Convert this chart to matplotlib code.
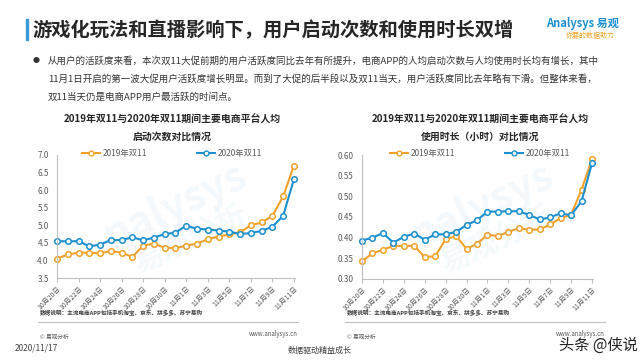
import matplotlib
matplotlib.use('Agg')
import matplotlib.pyplot as plt
from matplotlib.lines import Line2D

plt.rcParams['font.family'] = ['Noto Sans CJK SC', 'DejaVu Sans']

# data
days = ['10月20日', '10月21日', '10月22日', '10月23日', '10月24日', '10月25日',
        '10月26日', '10月27日', '10月28日', '10月29日', '10月30日', '10月31日',
        '11月1日', '11月2日', '11月3日', '11月4日', '11月5日', '11月6日',
        '11月7日', '11月8日', '11月9日', '11月10日', '11月11日']

launch_2019 = [4.05, 4.17, 4.22, 4.22, 4.20, 4.27, 4.22, 4.10, 4.42, 4.48, 4.36, 4.35,
               4.42, 4.48, 4.60, 4.68, 4.74, 4.80, 5.00, 5.08, 5.27, 5.82, 6.70]
launch_2020 = [4.55, 4.54, 4.55, 4.40, 4.45, 4.58, 4.58, 4.66, 4.57, 4.65, 4.75, 4.79,
               4.99, 4.90, 4.88, 4.85, 4.82, 4.75, 4.78, 4.84, 4.96, 5.27, 6.31]

usage_2019 = [0.343, 0.362, 0.371, 0.380, 0.380, 0.380, 0.353, 0.355, 0.396, 0.404, 0.373, 0.385,
              0.407, 0.404, 0.414, 0.423, 0.419, 0.420, 0.432, 0.447, 0.455, 0.516, 0.590]
usage_2020 = [0.393, 0.400, 0.411, 0.388, 0.402, 0.410, 0.395, 0.408, 0.408, 0.414, 0.431, 0.442,
              0.463, 0.463, 0.464, 0.464, 0.455, 0.444, 0.449, 0.459, 0.454, 0.488, 0.580]

series_names = ['2019年双11', '2020年双11']
orange = '#F2A22A'
blue = '#1C8FCF'
grey = '#595959'

fig = plt.figure(figsize=(6.4, 3.6), dpi=100)
fig.patch.set_facecolor('white')

# header
fig.patches.append(plt.Rectangle((26 / 640, 1 - 40 / 360), 2 / 640, 21 / 360,
                                 transform=fig.transFigure, color='#3A9AD9'))
fig.text(32 / 640, 1 - 30 / 360, '游戏化玩法和直播影响下，用户启动次数和使用时长双增',
         fontsize=13.9, fontweight='bold', color='#262626', va='center')
fig.text(582 / 640, 1 - 23 / 360, 'Analysys 易观', fontsize=8, fontweight='bold',
         color='#1C8FCF', va='center', ha='center', style='italic')
fig.text(590 / 640, 1 - 36 / 360, '你要的数据助力', fontsize=5, color='#F2A22A',
         va='center', ha='center', style='italic')

# bullet text
fig.text(36 / 640, 1 - 61 / 360, '●', fontsize=5, color='#333333', va='center', ha='center')
lines = ['从用户的活跃度来看，本次双11大促前期的用户活跃度同比去年有所提升，电商APP的人均启动次数与人均使用时长均有增长，其中',
         '11月1日开启的第一波大促用户活跃度增长明显。而到了大促的后半段以及双11当天，用户活跃度同比去年略有下滑。但整体来看，',
         '双11当天仍是电商APP用户最活跃的时间点。']
for i, t in enumerate(lines):
    fig.text(48 / 640, 1 - (61 + i * 18) / 360, t, fontsize=6.85, color='#333333', va='center')


def draw_panel(rect, y19, y20, ylim, yticks, fmt, title1, title2, cx):
    ax = fig.add_axes(rect)
    x = range(len(days))
    ax.plot(x, y19, color=orange, lw=1.5, marker='o', ms=4, mfc='white', mec=orange, mew=1.1,
            label=series_names[0], clip_on=False)
    ax.plot(x, y20, color=blue, lw=1.5, marker='o', ms=4, mfc='white', mec=blue, mew=1.1,
            label=series_names[1], clip_on=False)
    ax.set_xlim(0, len(days) - 0.9)
    ax.set_ylim(*ylim)
    ax.set_yticks(yticks)
    ax.set_yticklabels([fmt.format(v) for v in yticks], fontsize=5.8, color=grey)
    ax.set_xticks(list(range(0, len(days), 2)))
    ax.set_xticklabels(days[::2], rotation=45, ha='right', rotation_mode='anchor',
                       fontsize=5, color=grey)
    for s in ['top', 'right']:
        ax.spines[s].set_visible(False)
    for s in ['left', 'bottom']:
        ax.spines[s].set_color('#BFBFBF')
        ax.spines[s].set_linewidth(0.8)
    ax.tick_params(axis='y', length=0, pad=6)
    ax.tick_params(axis='x', length=3, color='#BFBFBF', pad=2)
    ax.set_facecolor('none')
    handles = [Line2D([], [], color=orange, lw=1.5, marker='o', ms=3.5, mfc='white', mec=orange),
               Line2D([], [], color=blue, lw=1.5, marker='o', ms=3.5, mfc='white', mec=blue)]
    ax.legend(handles, series_names, loc='center', ncol=2,
              bbox_to_anchor=(cx / 640, 1 - 153 / 360), bbox_transform=fig.transFigure,
              frameon=False, fontsize=6, columnspacing=6, handlelength=2.2,
              handletextpad=0.3, labelcolor=grey)
    fig.text(cx / 640, 1 - 120 / 360, title1, fontsize=7.1, fontweight='bold', color='#262626',
             ha='center', va='center')
    fig.text(cx / 640, 1 - 137 / 360, title2, fontsize=7.1, fontweight='bold', color='#262626',
             ha='center', va='center')
    return ax


draw_panel([57 / 640, 1 - 278 / 360, 238 / 640, 123 / 360], launch_2019, launch_2020,
           (3.5, 7.0), [3.5, 4.0, 4.5, 5.0, 5.5, 6.0, 6.5, 7.0], '{:.1f}',
           '2019年双11与2020年双11期间主要电商平台人均', '启动次数对比情况', 172)
draw_panel([362 / 640, 1 - 279 / 360, 231 / 640, 124 / 360], usage_2019, usage_2020,
           (0.30, 0.60), [0.30, 0.35, 0.40, 0.45, 0.50, 0.55, 0.60], '{:.2f}',
           '2019年双11与2020年双11期间主要电商平台人均', '使用时长（小时）对比情况', 480)

# faint watermarks
for wx in [175, 482]:
    fig.text(wx / 640, 1 - 205 / 360, 'nalysys', fontsize=30, color='#1C8FCF',
             alpha=0.06, rotation=25, ha='center', va='center', fontweight='bold')
    fig.text((wx + 15) / 640, 1 - 240 / 360, '易观分析', fontsize=22, color='#1C8FCF',
             alpha=0.05, rotation=25, ha='center', va='center', fontweight='bold')

# notes and footers
note = '数据说明：主流电商APP包括手机淘宝、京东、拼多多、苏宁易购'
for x0, x1 in [(38, 298), (345, 605)]:
    fig.text((x0 + 2) / 640, 1 - 313 / 360, note, fontsize=4.1, color='#404040',
             fontweight='bold', va='center')
    fig.add_artist(Line2D([x0 / 640, x1 / 640], [1 - 322 / 360, 1 - 322 / 360],
                          color='#BFBFBF', lw=0.8, transform=fig.transFigure))
    fig.text((x0 + 2) / 640, 1 - 337 / 360, '© 易观分析', fontsize=4.1, color='#595959',
             va='center')
    fig.text(x1 / 640, 1 - 334 / 360, 'www.analysys.cn', fontsize=4.4, color='#595959',
             va='center', ha='right')

fig.text(15 / 640, 1 - 348 / 360, '2020/11/17', fontsize=6, color='#404040', va='center')
fig.text(320 / 640, 1 - 350 / 360, '数据驱动精益成长', fontsize=5.8, color='#404040',
         va='center', ha='center')
fig.text(598 / 640, 1 - 345 / 360, '头条 @侠说', fontsize=11, color='#222222',
         va='center', ha='center')

fig.savefig('out.png', dpi=100, facecolor='white')
